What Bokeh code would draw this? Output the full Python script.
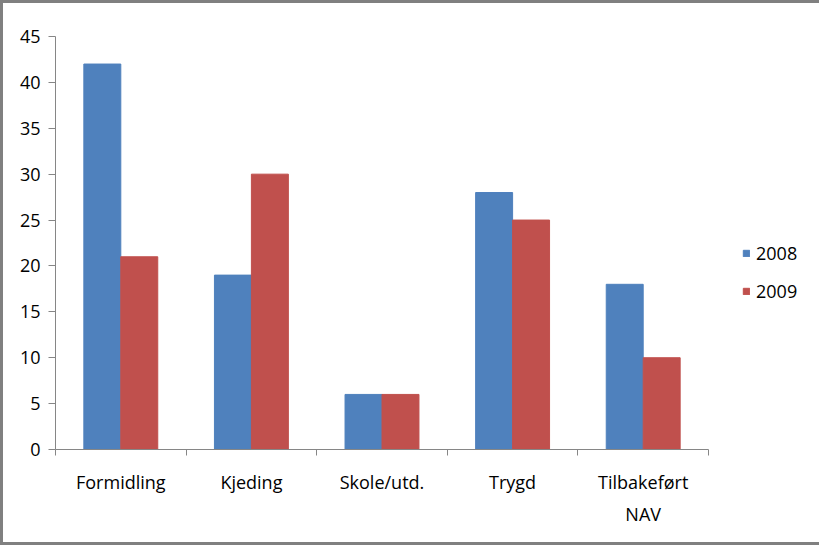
from bokeh.plotting import figure
from bokeh.models import (Range1d, FixedTicker, LinearAxis, Legend, LegendItem,
                          ColumnDataSource)
from bokeh.embed import file_html
from bokeh.resources import INLINE

categories = ["Formidling", "Kjeding", "Skole/utd.", "Trygd", "Tilbakeført\nNAV"]
values_2008 = [42, 19, 6, 28, 18]
values_2009 = [21, 30, 6, 25, 10]
series_names = ["2008", "2009"]
y_ticks = [0, 5, 10, 15, 20, 25, 30, 35, 40, 45]

BLUE = "#4F81BD"
RED = "#C0504D"
GRID = "#868686"
FONT = "Open Sans"

centers = [i + 0.5 for i in range(len(categories))]
bounds = [i for i in range(len(categories) + 1)]
bw = 0.283
off = 0.1415

p = figure(frame_width=653, frame_height=413, output_backend="svg", toolbar_location=None,
           x_range=Range1d(0, len(categories)), y_range=Range1d(0, 45),
           x_axis_type=None, y_axis_type=None,
           min_border_left=52, min_border_right=108, min_border_top=33, min_border_bottom=93)
p.outline_line_color = None
p.background_fill_color = "white"
p.border_fill_color = "white"
p.styles = {"border": "3px solid #808080"}

src = ColumnDataSource(dict(c=centers, x1=[c - off for c in centers], x2=[c + off for c in centers],
                            v1=values_2008, v2=values_2009))
r1 = p.vbar(x="x1", top="v1", width=bw, source=src, fill_color=BLUE, line_color=BLUE)
r2 = p.vbar(x="x2", top="v2", width=bw, source=src, fill_color=RED, line_color=RED)

# y axis
yaxis = LinearAxis(ticker=FixedTicker(ticks=y_ticks, minor_ticks=[]))
yaxis.axis_line_color = GRID
yaxis.major_tick_line_color = GRID
yaxis.major_tick_out = 7
yaxis.major_tick_in = 0
yaxis.minor_tick_line_color = None
yaxis.major_label_text_font = FONT
yaxis.major_label_text_font_size = "18px"
yaxis.major_label_text_color = "black"
yaxis.major_label_standoff = 8
p.add_layout(yaxis, "left")

# x axis: labels at centres, tick marks at category boundaries
xaxis = LinearAxis(ticker=FixedTicker(ticks=centers, minor_ticks=bounds))
xaxis.major_label_overrides = {c: name for c, name in zip(centers, categories)}
xaxis.axis_line_color = GRID
xaxis.major_tick_line_color = None
xaxis.major_tick_out = 0
xaxis.major_tick_in = 0
xaxis.minor_tick_line_color = GRID
xaxis.minor_tick_out = 6
xaxis.minor_tick_in = 0
xaxis.major_label_text_font = FONT
xaxis.major_label_text_font_size = "18px"
xaxis.major_label_text_color = "black"
xaxis.major_label_text_line_height = 1.37
xaxis.major_label_standoff = 14
p.add_layout(xaxis, "below")

p.ygrid.ticker = FixedTicker(ticks=y_ticks)
p.ygrid.grid_line_color = GRID
p.xgrid.visible = False

legend = Legend(items=[LegendItem(label=series_names[0], renderers=[r1]),
                       LegendItem(label=series_names[1], renderers=[r2])],
                location=(34, 146), orientation="vertical")
legend.glyph_width = 8
legend.glyph_height = 8
legend.label_height = 8
legend.spacing = 14
legend.padding = 0
legend.margin = 0
legend.label_standoff = 6
legend.label_text_font = FONT
legend.label_text_font_size = "18px"
legend.label_text_color = "black"
legend.border_line_color = None
legend.background_fill_alpha = 0
p.add_layout(legend, "right")

open("out.html", "w").write(file_html(p, INLINE))
